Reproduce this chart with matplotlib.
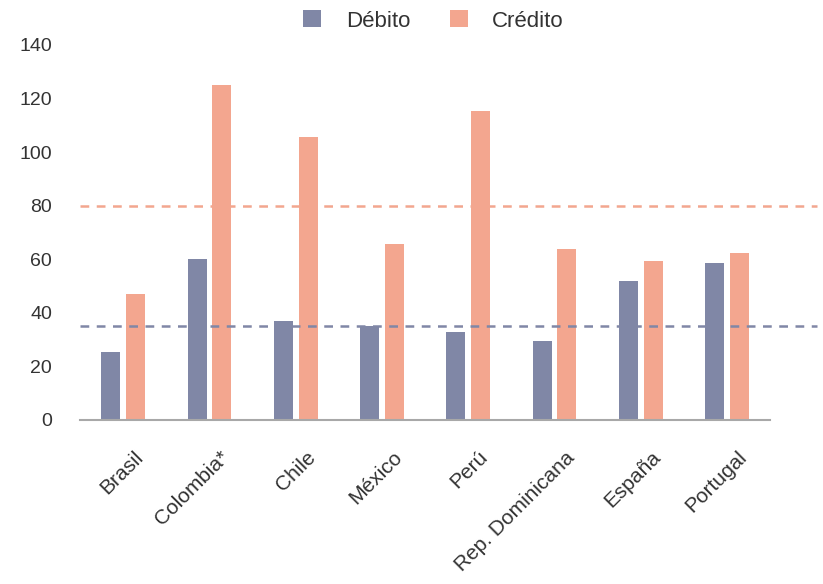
import matplotlib.pyplot as plt
import matplotlib.transforms as mtransforms
import numpy as np

plt.rcParams["font.family"] = ["Liberation Sans", "DejaVu Sans"]

COUNTRIES = ["Brasil", "Colombia*", "Chile", "México", "Perú",
             "Rep. Dominicana", "España", "Portugal"]
DEBITO = [25.5, 60, 37, 35, 33, 29.5, 52, 58.5]
CREDITO = [47, 125, 105.5, 65.5, 115.5, 64, 59.5, 62.5]
REF_CREDITO = 80
REF_DEBITO = 35
Y_TICKS = [0, 20, 40, 60, 80, 100, 120, 140]

COLOR_DEB = "#8087a6"
COLOR_CRED = "#f3a68f"
TEXT_COLOR = "#333333"

fig = plt.figure(figsize=(8.23, 5.84), dpi=100)
ax = fig.add_axes([0.0972, 0.281, 0.8388, 0.642])

x = np.arange(len(COUNTRIES))
offset = 0.143
width = 0.22
ax.bar(x - offset, DEBITO, width, color=COLOR_DEB, label="Débito")
ax.bar(x + offset, CREDITO, width, color=COLOR_CRED, label="Crédito")

ax.axhline(REF_CREDITO, xmin=0, xmax=1.068, color=COLOR_CRED, lw=1.8,
           dashes=(3.5, 3), clip_on=False)
ax.axhline(REF_DEBITO, xmin=0, xmax=1.068, color=COLOR_DEB, lw=1.8,
           dashes=(3.5, 3), clip_on=False)

ax.set_xlim(-0.5, len(COUNTRIES) - 0.5)
ax.set_ylim(0, 140)
ax.set_yticks(Y_TICKS)
ax.tick_params(axis="y", length=0, pad=20, labelsize=14, labelcolor=TEXT_COLOR)
ax.tick_params(axis="x", length=0, pad=20, labelsize=15, labelcolor=TEXT_COLOR)

ax.set_xticks(x)
ax.set_xticklabels(COUNTRIES, rotation=45, ha="right", va="top",
                   rotation_mode="anchor")
shift = mtransforms.ScaledTranslation(10 / 100, 0, fig.dpi_scale_trans)
for lbl in ax.get_xticklabels():
    lbl.set_transform(lbl.get_transform() + shift)

for side in ["left", "right", "top"]:
    ax.spines[side].set_visible(False)
ax.spines["bottom"].set_color("#a8a8a8")
ax.spines["bottom"].set_linewidth(1.5)

fig.legend(loc="center", bbox_to_anchor=(0.527, 0.964), ncol=2, frameon=False,
           fontsize=16, handlelength=0.8, handleheight=0.8, columnspacing=1.8,
           handletextpad=1.1, labelcolor=TEXT_COLOR)

fig.savefig("out.png", dpi=100, facecolor="white")
